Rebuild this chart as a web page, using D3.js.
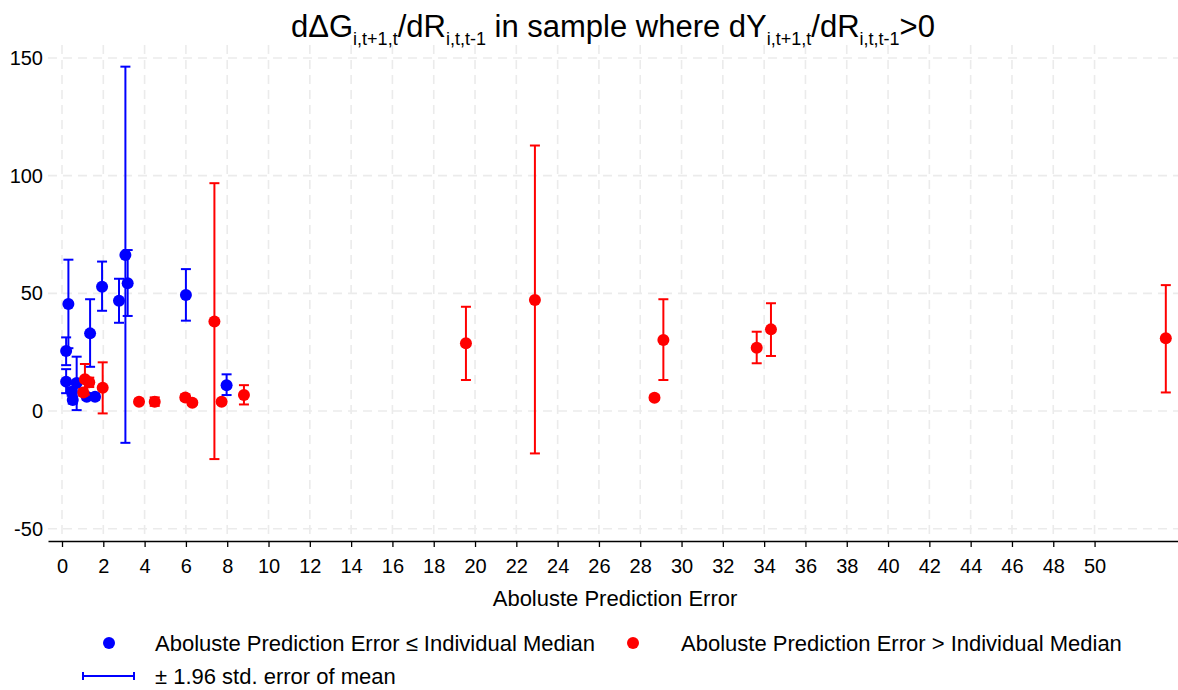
<!DOCTYPE html>
<html>
<head>
<meta charset="utf-8">
<script src="https://cdn.jsdelivr.net/npm/d3@7"></script>
<style>
  body { margin: 0; background: #fff; }
  svg { display: block; font-family: "Liberation Sans", Arial, Helvetica, sans-serif; }
</style>
</head>
<body>
<svg id="chart" width="1178" height="690"></svg>
<script>
// ---- Data ----
const blueX  = [0.31, 0.20, 0.20, 0.71, 0.47, 0.52, 1.20, 1.60, 1.36, 1.94, 2.76, 3.07, 3.18, 6.00, 7.97];
const blueY  = [45.5, 25.5, 12.5, 11.9, 8.2, 4.7, 6.1, 6.1, 33.0, 52.8, 46.9, 66.3, 54.3, 49.3, 11.0];
const blueLo = [26.7, 19.5, 7.6, 0.4, 6.5, 3.2, 4.8, 4.8, 18.8, 42.6, 37.5, -13.5, 40.4, 38.4, 6.8];
const blueHi = [64.3, 31.3, 17.8, 23.1, 9.9, 6.2, 7.4, 7.4, 47.5, 63.5, 56.2, 146.3, 68.4, 60.3, 15.6];

const redX  = [1.11, 1.32, 1.03, 1.97, 3.73, 4.49, 5.97, 6.31, 7.38, 7.73, 8.81, 19.56, 22.90, 28.69, 29.12, 33.64, 34.33, 53.45];
const redY  = [13.5, 12.2, 7.9, 9.9, 4.0, 4.0, 5.8, 3.5, 38.0, 4.0, 6.8, 28.8, 47.2, 5.7, 30.2, 26.9, 34.7, 30.9];
const redLo = [7.0, 10.2, 6.5, -1.0, 3.0, 2.2, 4.6, 2.6, -20.4, 3.2, 2.8, 13.2, -18.0, 4.7, 13.2, 20.3, 23.4, 7.9];
const redHi = [20.0, 14.2, 9.3, 20.7, 5.0, 5.8, 7.0, 4.4, 96.8, 4.8, 11.0, 44.3, 112.8, 6.7, 47.5, 33.7, 45.8, 53.5];

const xTicks = d3.range(0, 51, 2);
const yTicks = [-50, 0, 50, 100, 150];

const titleParts = [
  {t: "dΔG"}, {t: "i,t+1,t", sub: true}, {t: "/dR"}, {t: "i,t,t-1", sub: true},
  {t: " in sample where dY"}, {t: "i,t+1,t", sub: true}, {t: "/dR"}, {t: "i,t,t-1", sub: true}, {t: ">0"}
];
const xTitle = "Aboluste Prediction Error";
const legendBlue = "Aboluste Prediction Error ≤ Individual Median";
const legendRed = "Aboluste Prediction Error > Individual Median";
const legendErr = "± 1.96 std. error of mean";

// ---- Layout ----
const svg = d3.select("#chart");
const pL = 48, pR = 1178, pT = 45, pB = 541;

const x = d3.scaleLinear().domain([-0.678, 54.04]).range([pL, pR]);
const y = d3.scaleLinear().domain([-55.2, 155.5]).range([pB, pT]);

const BLUE = "#0000ff", RED = "#ff0000", GRID = "#ebebeb";
const FONT = "Liberation Sans, Arial, Helvetica, sans-serif";

// gridlines
const g = svg.append("g");
g.selectAll(".vg").data(xTicks).enter().append("line")
  .attr("x1", d => x(d)).attr("x2", d => x(d))
  .attr("y1", pT).attr("y2", pB)
  .attr("stroke", GRID).attr("stroke-width", 1.6).attr("stroke-dasharray", "9,6");
g.selectAll(".hg").data(yTicks).enter().append("line")
  .attr("x1", pL).attr("x2", pR)
  .attr("y1", d => y(d)).attr("y2", d => y(d))
  .attr("stroke", GRID).attr("stroke-width", 1.6).attr("stroke-dasharray", "9,6");

// x axis
const xAxis = d3.axisBottom(x).tickValues(xTicks).tickFormat(d => String(d))
  .tickSize(6).tickPadding(12).tickSizeOuter(0);
const xa = svg.append("g").attr("transform", `translate(0,${pB})`).call(xAxis);
xa.select(".domain").attr("stroke", "#000").attr("stroke-width", 1.3);
xa.selectAll(".tick line").attr("stroke", "#000").attr("stroke-width", 1.3);
xa.selectAll(".tick text").attr("font-size", 20).attr("fill", "#000").attr("font-family", FONT);

// y axis labels (no axis line), hyphen-minus as in the reference
const yAxis = d3.axisLeft(y).tickValues(yTicks).tickFormat(d => String(d))
  .tickSize(0).tickPadding(5);
const ya = svg.append("g").attr("transform", `translate(${pL},0)`).call(yAxis);
ya.select(".domain").remove();
ya.selectAll(".tick text").attr("font-size", 20).attr("fill", "#000").attr("font-family", FONT);

// axis title
svg.append("text").attr("x", 615).attr("y", 606).attr("text-anchor", "middle")
  .attr("font-size", 22).text(xTitle);

// title
const title = svg.append("text").attr("x", 613).attr("y", 37).attr("text-anchor", "middle")
  .attr("font-size", 31);
titleParts.forEach((p, i) => {
  const prev = i > 0 ? titleParts[i - 1] : null;
  let dy = 0;
  if (p.sub && !(prev && prev.sub)) dy = 8;
  if (!p.sub && prev && prev.sub) dy = -8;
  const ts = title.append("tspan").text(p.t).attr("dy", dy);
  if (p.sub) ts.attr("font-size", 18);
});

// error bars + points
function drawSeries(xs, ys, lo, hi, color) {
  const grp = svg.append("g");
  const idx = d3.range(xs.length);
  const cap = 5;
  grp.selectAll(".eb").data(idx).enter().append("line")
    .attr("x1", i => x(xs[i])).attr("x2", i => x(xs[i]))
    .attr("y1", i => y(lo[i])).attr("y2", i => y(hi[i]))
    .attr("stroke", color).attr("stroke-width", 2);
  grp.selectAll(".cl").data(idx).enter().append("line")
    .attr("x1", i => x(xs[i]) - cap).attr("x2", i => x(xs[i]) + cap)
    .attr("y1", i => y(lo[i])).attr("y2", i => y(lo[i]))
    .attr("stroke", color).attr("stroke-width", 2);
  grp.selectAll(".ch").data(idx).enter().append("line")
    .attr("x1", i => x(xs[i]) - cap).attr("x2", i => x(xs[i]) + cap)
    .attr("y1", i => y(hi[i])).attr("y2", i => y(hi[i]))
    .attr("stroke", color).attr("stroke-width", 2);
  grp.selectAll("circle").data(idx).enter().append("circle")
    .attr("cx", i => x(xs[i])).attr("cy", i => y(ys[i])).attr("r", 6)
    .attr("fill", color);
}
drawSeries(blueX, blueY, blueLo, blueHi, BLUE);
drawSeries(redX, redY, redLo, redHi, RED);

// legend
const lg = svg.append("g").attr("font-size", 22);
lg.append("circle").attr("cx", 109).attr("cy", 643).attr("r", 6).attr("fill", BLUE);
lg.append("text").attr("x", 155).attr("y", 651).text(legendBlue);
lg.append("circle").attr("cx", 633).attr("cy", 643).attr("r", 6).attr("fill", RED);
lg.append("text").attr("x", 681).attr("y", 651).text(legendRed);
lg.append("line").attr("x1", 83).attr("x2", 134).attr("y1", 676).attr("y2", 676)
  .attr("stroke", BLUE).attr("stroke-width", 2);
lg.append("line").attr("x1", 83).attr("x2", 83).attr("y1", 672).attr("y2", 680)
  .attr("stroke", BLUE).attr("stroke-width", 2);
lg.append("line").attr("x1", 134).attr("x2", 134).attr("y1", 672).attr("y2", 680)
  .attr("stroke", BLUE).attr("stroke-width", 2);
lg.append("text").attr("x", 155).attr("y", 684).text(legendErr);
</script>
</body>
</html>
